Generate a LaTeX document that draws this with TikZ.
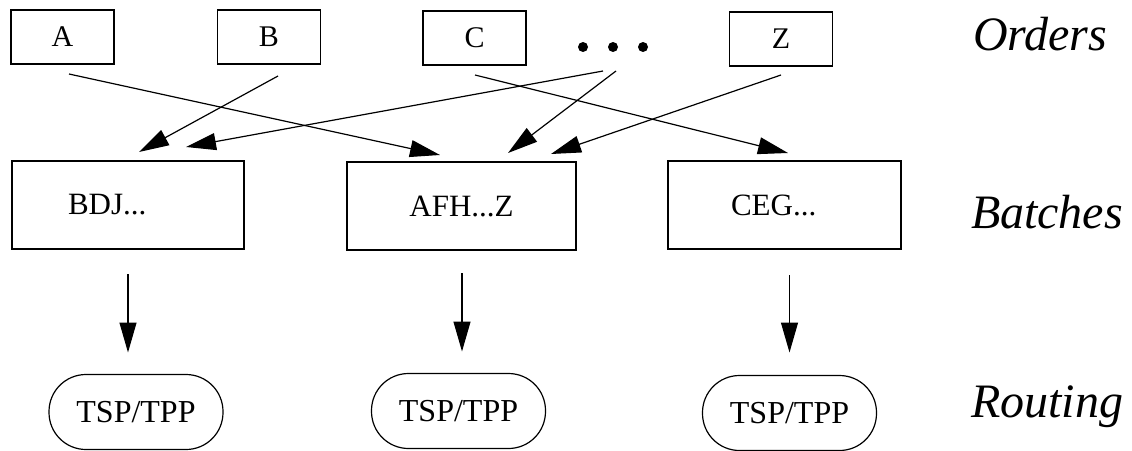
\documentclass[tikz,border=0pt]{standalone}
\usepackage{fontspec}
\setmainfont{Liberation Serif}
\usetikzlibrary{arrows.meta}
\begin{document}
\begin{tikzpicture}[x=1pt,y=-1pt,
  every node/.style={inner sep=0pt, outer sep=0pt},
  order/.style={draw, line width=1.2pt, minimum width=103pt, minimum height=54pt,
    font=\fontsize{30}{35}\selectfont},
  batch/.style={draw, line width=1.2pt, minimum height=88pt,
    font=\fontsize{31}{36}\selectfont},
  route/.style={draw, line width=1.2pt, rounded corners=37pt, minimum width=174pt,
    minimum height=75pt, font=\fontsize{32}{37}\selectfont},
  level/.style={anchor=base west, font=\fontsize{48}{56}\selectfont\itshape},
  link/.style={line width=1.2pt, -{Triangle[length=30pt,width=17pt]}}
]
\useasboundingbox (0,0) rectangle (1132,450);

% orders
\node[order] (A) at (62.5,37) {A};
\node[order] (B) at (269,37) {B};
\node[order] (C) at (474.5,38) {C};
\node[order] (Z) at (781,39) {Z};
\node (dots) at (613,47) {};
\fill ([xshift=-30pt]dots) circle (5pt) (dots) circle (5pt) ([xshift=30pt]dots) circle (5pt);

% batches
\node[batch, text width=120pt, align=left, inner xsep=56pt] (BDJ) at (128,205) {BDJ...};
\node[batch, minimum width=229pt] (AFH) at (461.5,206) {AFH...Z};
\node[batch, text width=107pt, align=left, inner xsep=63pt] (CEG) at (784.5,205) {CEG...};

% routing
\node[route] (R1) at (136,412) {TSP/TPP};
\node[route] (R2) at (458.5,411) {TSP/TPP};
\node[route] (R3) at (789.5,413) {TSP/TPP};

% level labels
\node[level] (lo) at (973,50) {Orders};
\node[level] (lb) at (971,228) {Batches};
\node[level] (lr) at (971,417) {Routing};

% order -> batch assignment
\draw[link] ([shift={(6.5,10)}]A.south) -- ([shift={(-21.5,-7)}]AFH.north);
\draw[link] ([shift={(9,12)}]B.south) -- ([shift={(11,-9)}]BDJ.north);
\draw[link] ([shift={(0.5,10)}]C.south) -- ([shift={(3.5,-8)}]CEG.north);
\draw[link] ([shift={(0,9)}]Z.south) -- ([shift={(89.5,-8)}]AFH.north);
\draw[link] ([shift={(-10,24)}]dots.center) -- ([shift={(58,-14)}]BDJ.north);
\draw[link] ([shift={(3,24)}]dots.center) -- ([shift={(46.5,-9)}]AFH.north);

% batch -> routing
\draw[link] ([shift={(0,25)}]BDJ.south) -- ([shift={(-8,-22)}]R1.north);
\draw[link] ([shift={(0.5,23)}]AFH.south) -- ([shift={(3.5,-22)}]R2.north);
\draw[link] ([shift={(5,26)}]CEG.south) -- ([shift={(0,-23)}]R3.north);
\end{tikzpicture}
\end{document}
